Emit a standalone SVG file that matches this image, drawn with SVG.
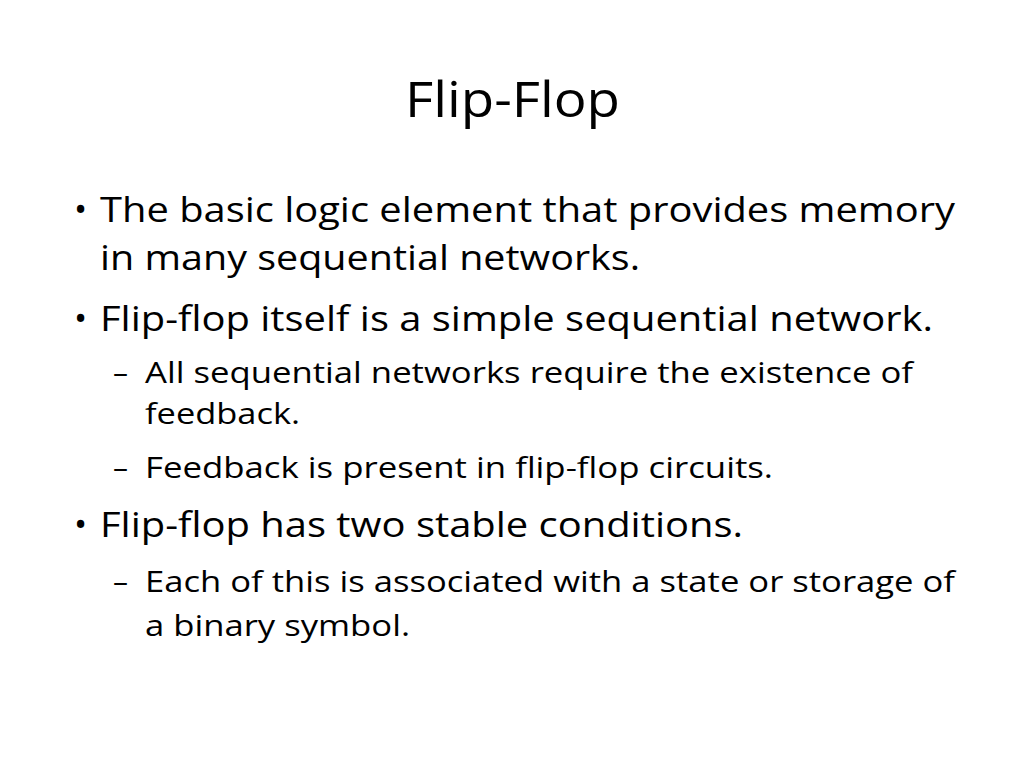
<svg xmlns="http://www.w3.org/2000/svg" width="1024" height="768" viewBox="0 0 1024 768">
<style>
text{font-family:"Open Sans","Liberation Sans",sans-serif;fill:#000}
.t{font-size:50px}
.b{font-size:35px}
.s{font-size:30px}
</style>
<rect width="1024" height="768" fill="#fff"/>
<text class="t" x="405" y="117" textLength="215" lengthAdjust="spacingAndGlyphs">Flip-Flop</text>
<text class="b" x="74" y="222">•</text>
<text class="b" x="100" y="222" textLength="855" lengthAdjust="spacingAndGlyphs">The basic logic element that provides memory</text>
<text class="b" x="100" y="270" textLength="540" lengthAdjust="spacingAndGlyphs">in many sequential networks.</text>
<text class="b" x="74" y="331">•</text>
<text class="b" x="100" y="331" textLength="833" lengthAdjust="spacingAndGlyphs">Flip-flop itself is a simple sequential network.</text>
<text class="s" x="113" y="383">–</text>
<text class="s" x="145" y="383" textLength="768" lengthAdjust="spacingAndGlyphs">All sequential networks require the existence of</text>
<text class="s" x="145" y="424" textLength="155" lengthAdjust="spacingAndGlyphs">feedback.</text>
<text class="s" x="113" y="478">–</text>
<text class="s" x="145" y="478" textLength="628" lengthAdjust="spacingAndGlyphs">Feedback is present in flip-flop circuits.</text>
<text class="b" x="74" y="537">•</text>
<text class="b" x="100" y="537" textLength="643" lengthAdjust="spacingAndGlyphs">Flip-flop has two stable conditions.</text>
<text class="s" x="113" y="592">–</text>
<text class="s" x="145" y="592" textLength="810" lengthAdjust="spacingAndGlyphs">Each of this is associated with a state or storage of</text>
<text class="s" x="145" y="636" textLength="265" lengthAdjust="spacingAndGlyphs">a binary symbol.</text>
</svg>
